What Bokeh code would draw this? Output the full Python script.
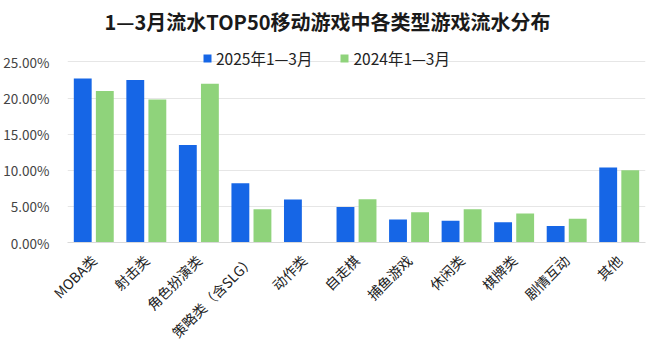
from bokeh.plotting import figure
from bokeh.models import FactorRange, Legend, LegendItem, PrintfTickFormatter, FixedTicker, Range1d
from bokeh.transform import dodge
from bokeh.models import ColumnDataSource
from bokeh.embed import file_html
from bokeh.resources import INLINE
import math

categories = ["MOBA类", "射击类", "角色扮演类", "策略类（含SLG）", "动作类", "自走棋",
              "捕鱼游戏", "休闲类", "棋牌类", "剧情互动", "其他"]
share_2025 = [22.7, 22.5, 13.5, 8.2, 5.95, 4.9, 3.2, 3.0, 2.8, 2.3, 10.4]
share_2024 = [21.0, 19.8, 22.0, 4.6, 0.0, 6.0, 4.2, 4.6, 4.0, 3.3, 10.0]
y_ticks = [0, 5, 10, 15, 20, 25]
series_names = ["2025年1—3月", "2024年1—3月"]

FONT = "Noto Sans CJK SC"
BLUE = "#1666E6"
GREEN = "#8FD37B"

src = ColumnDataSource(dict(cat=categories, a=share_2025, b=share_2024))

p = figure(width=650, height=352, x_range=FactorRange(*categories),
           y_range=Range1d(0, 27.7), output_backend="svg", toolbar_location=None,
           min_border_left=62, min_border_right=5, min_border_top=42, min_border_bottom=110)

r1 = p.vbar(x=dodge("cat", -0.21, range=p.x_range), top="a", width=0.34, source=src,
            color=BLUE, line_color=None)
r2 = p.vbar(x=dodge("cat", 0.21, range=p.x_range), top="b", width=0.34, source=src,
            color=GREEN, line_color=None)

p.title.text = "1—3月流水TOP50移动游戏中各类型游戏流水分布"
p.title.align = "left"
p.title.offset = 37
p.title.vertical_align = "top"
p.title.text_font = FONT
p.title.text_font_size = "20px"
p.title.text_font_style = "bold"
p.title.text_color = "#1a1a1a"
p.title.standoff = 9

p.outline_line_color = None
p.xgrid.grid_line_color = None
p.ygrid.grid_line_color = "#e6e6e6"
p.yaxis.ticker = FixedTicker(ticks=y_ticks)
p.yaxis.formatter = PrintfTickFormatter(format="%.2f%%")
p.yaxis.axis_line_color = None
p.yaxis.major_tick_line_color = None
p.yaxis.minor_tick_line_color = None
p.yaxis.major_label_standoff = 12
p.yaxis.major_label_text_font = FONT
p.yaxis.major_label_text_font_size = "13.5px"
p.yaxis.major_label_text_color = "#444444"

p.xaxis.axis_line_color = "#d9d9d9"
p.xaxis.major_tick_line_color = None
p.xaxis.minor_tick_line_color = None
p.xaxis.major_label_orientation = math.pi / 4
p.xaxis.major_label_text_font = FONT
p.xaxis.major_label_text_font_size = "14px"
p.xaxis.major_label_text_color = "#222222"
p.xaxis.major_label_standoff = 9
p.x_range.range_padding = 0
p.x_range.factor_padding = 0

legend = Legend(items=[LegendItem(label=series_names[0], renderers=[r1]),
                       LegendItem(label=series_names[1], renderers=[r2])],
                orientation="horizontal", location=(135, 173),
                background_fill_alpha=0, border_line_color=None,
                label_text_font=FONT, label_text_font_size="15.5px", label_text_color="#222222",
                glyph_width=10, glyph_height=10, spacing=27, margin=0, padding=5,
                label_standoff=4, label_height=22)
p.add_layout(legend)

open("out.html", "w").write(file_html(p, INLINE))
